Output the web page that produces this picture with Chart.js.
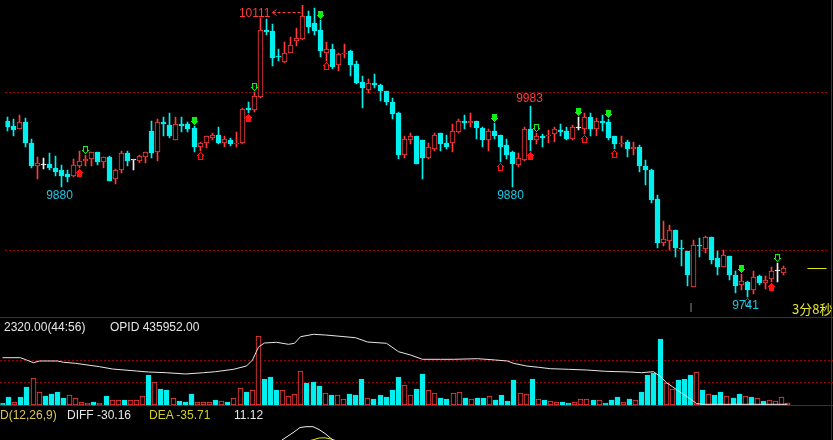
<!DOCTYPE html>
<html lang="zh">
<head>
<meta charset="UTF-8" />
<title>K线 分时</title>
<script src="https://cdn.jsdelivr.net/npm/chart.js@4.4.1/dist/chart.umd.min.js"></script>
<style>
  html, body { margin: 0; padding: 0; background: #000; overflow: hidden; }
  #wrap { position: relative; width: 833px; height: 440px; }
  canvas { position: absolute; left: 0; }
  .txt { position: absolute; font: 12px "Liberation Sans", Arial, sans-serif; line-height: 12px; white-space: pre; }
  .hline { position: absolute; left: 0; width: 833px; height: 1px; background: #b40000; }
  .vline { position: absolute; top: 0; left: 831px; width: 1px; height: 440px; background: #b40000; }
</style>
</head>
<body>
<div id="wrap">
  <canvas id="price" width="833" height="317" style="top:0px"></canvas>
  <canvas id="vol" width="833" height="88" style="top:317px"></canvas>
  <canvas id="macd" width="833" height="34" style="top:406px"></canvas>
  <div class="hline" style="top:317px"></div>
  <div class="hline" style="top:405px"></div>
  <div class="vline"></div>
  <div class="txt" style="left:4px;top:321px;color:#e6e6e6">2320.00(44:56)</div>
  <div class="txt" style="left:110px;top:321px;color:#e6e6e6">OPID 435952.00</div>
  <div class="txt" style="left:0px;top:409px;color:#dcc850">D(12,26,9)</div>
  <div class="txt" style="left:67px;top:409px;color:#e6e6e6">DIFF -30.16</div>
  <div class="txt" style="left:149px;top:409px;color:#d2d21e">DEA -35.71</div>
  <div class="txt" style="left:234px;top:409px;color:#e6e6e6">11.12</div>
  <div class="txt" style="left:792px;top:302px;font:13px 'Noto Sans CJK SC', sans-serif;line-height:13px;color:#e6e632">3分8秒</div>
</div>

<script>
  // K线数据
  const openP = [
    9963, 9957, 9953, 9962, 9935, 9906, 9908, 9909, 9904, 9902,
    9896, 9894, 9907, 9913, 9915, 9924, 9912, 9918, 9890, 9901,
    9923, 9914, 9913, 9918, 9951, 9924, 9962, 9958, 9940, 9960,
    9960, 9955, 9931, 9936, 9942, 9946, 9936, 9940, 9934, 9935,
    9980, 9977, 9994, 10079, 10077, 10045, 10038, 10050, 10065, 10067,
    10096, 10087, 10079, 10050, 10055, 10034, 10048, 10052, 10036, 10013,
    10003, 10011, 10009, 10001, 9988, 9973, 9921, 9939, 9945, 9940,
    9917, 9928, 9948, 9935, 9935, 9950, 9963, 9961, 9963, 9955,
    9939, 9951, 9946, 9933, 9924, 9908, 9914, 9953, 9939, 9945,
    9944, 9947, 9952, 9951, 9941, 9955, 9953, 9969, 9953, 9963,
    9962, 9944, 9934, 9937, 9928, 9931, 9907, 9902, 9865, 9809,
    9812, 9825, 9803, 9799, 9753, 9806, 9801, 9817, 9790, 9779,
    9793, 9769, 9756, 9760, 9750, 9767, 9758, 9763, 9774, 9771
  ];
  const closeP = [
    9956, 9952, 9962, 9936, 9907, 9910, 9908, 9904, 9899, 9894,
    9893, 9908, 9913, 9915, 9924, 9912, 9918, 9887, 9901, 9923,
    9913, 9914, 9919, 9924, 9923, 9962, 9960, 9944, 9960, 9957,
    9953, 9931, 9936, 9944, 9946, 9935, 9941, 9934, 9936, 9979,
    9977, 9995, 10079, 10076, 10043, 10044, 10049, 10060, 10069, 10096,
    10083, 10077, 10052, 10055, 10032, 10048, 10050, 10034, 10011, 10005,
    10011, 10009, 10001, 9987, 9972, 9921, 9941, 9945, 9909, 9917,
    9930, 9946, 9934, 9931, 9951, 9963, 9961, 9963, 9955, 9940,
    9951, 9944, 9930, 9921, 9909, 9917, 9953, 9940, 9944, 9942,
    9946, 9953, 9950, 9941, 9956, 9955, 9969, 9953, 9964, 9961,
    9942, 9934, 9936, 9928, 9931, 9906, 9901, 9863, 9809, 9814,
    9826, 9802, 9801, 9768, 9806, 9805, 9816, 9788, 9779, 9794,
    9768, 9755, 9761, 9750, 9766, 9758, 9762, 9774, 9774, 9777
  ];
  const highP = [
    9969, 9966, 9971, 9967, 9941, 9918, 9917, 9923, 9919, 9908,
    9902, 9915, 9925, 9921, 9924, 9924, 9918, 9919, 9903, 9925,
    9925, 9914, 9921, 9924, 9964, 9966, 9968, 9974, 9968, 9968,
    9962, 9957, 9937, 9944, 9948, 9956, 9944, 9942, 9950, 9980,
    9988, 10000, 10094, 10093, 10086, 10055, 10063, 10070, 10081, 10111,
    10103, 10106, 10092, 10063, 10061, 10049, 10061, 10053, 10039, 10021,
    10017, 10023, 10010, 10001, 9993, 9975, 9944, 9948, 9945, 9940,
    9936, 9948, 9948, 9946, 9960, 9966, 9971, 9973, 9963, 9956,
    9953, 9961, 9946, 9941, 9925, 9923, 9956, 9983, 9948, 9947,
    9952, 9956, 9960, 9956, 9958, 9968, 9973, 9973, 9967, 9971,
    9966, 9945, 9944, 9939, 9937, 9933, 9914, 9903, 9870, 9837,
    9832, 9825, 9813, 9799, 9813, 9815, 9818, 9817, 9799, 9800,
    9793, 9774, 9770, 9761, 9774, 9768, 9767, 9778, 9783, 9780
  ];
  const lowP = [
    9951, 9945, 9953, 9930, 9904, 9890, 9903, 9902, 9894, 9880,
    9886, 9892, 9904, 9907, 9907, 9908, 9904, 9887, 9884, 9897,
    9907, 9901, 9910, 9910, 9917, 9913, 9945, 9942, 9940, 9950,
    9950, 9924, 9926, 9929, 9940, 9934, 9930, 9932, 9930, 9934,
    9973, 9975, 9993, 10072, 10033, 10039, 10037, 10050, 10058, 10066,
    10075, 10072, 10045, 10040, 10029, 10027, 10043, 10021, 10010, 9980,
    9999, 10005, 9989, 9984, 9966, 9915, 9917, 9934, 9909, 9890,
    9915, 9926, 9925, 9928, 9924, 9948, 9953, 9956, 9941, 9931,
    9925, 9941, 9912, 9915, 9880, 9905, 9913, 9926, 9934, 9930,
    9936, 9937, 9945, 9940, 9940, 9952, 9947, 9945, 9945, 9951,
    9940, 9928, 9930, 9918, 9920, 9899, 9882, 9859, 9803, 9805,
    9800, 9791, 9780, 9755, 9753, 9791, 9796, 9782, 9768, 9779,
    9762, 9745, 9749, 9741, 9744, 9756, 9751, 9760, 9760, 9768
  ];
  // 成交量
  const volume = [
    100, 340, 120, 340, 785, 1185, 565, 415, 490, 575,
    310, 430, 300, 120, 90, 120, 75, 385, 210, 210,
    210, 210, 210, 385, 1320, 1010, 700, 665, 300, 165,
    135, 475, 120, 135, 120, 210, 165, 135, 325, 740,
    575, 655, 3065, 1155, 1230, 655, 655, 385, 475, 1495,
    975, 1020, 830, 520, 430, 430, 255, 475, 430, 1140,
    300, 255, 430, 340, 655, 1230, 875, 445, 700, 1375,
    655, 520, 300, 255, 520, 565, 300, 255, 300, 300,
    385, 210, 430, 180, 1095, 520, 475, 1155, 255, 220,
    165, 120, 120, 90, 120, 255, 255, 210, 210, 75,
    210, 340, 120, 255, 210, 575, 1320, 1420, 2930, 965,
    700, 1095, 1155, 1320, 1450, 655, 475, 430, 565, 385,
    300, 475, 385, 340, 300, 165, 210, 165, 340, 75
  ];
  // 持仓量 (OPID)
  const opidIdx = [0, 3, 4, 5, 6, 9, 10, 12, 16, 18, 22, 24, 27, 30, 33, 35, 38, 40, 41, 42,
    43, 45, 47, 48, 49, 51, 53, 58, 60, 63, 65, 67, 69, 72, 74, 78, 81, 83, 84, 86,
    88, 90, 93, 96, 99, 103, 105, 107, 108, 109, 110, 111, 112, 113, 114, 115, 129];
  const opidVal = [436373, 436373, 436350, 436323, 436340, 436340, 436327, 436317, 436283, 436260,
    436240, 436230, 436223, 436210, 436223, 436233, 436257, 436290, 436350, 436480,
    436520, 436527, 436507, 436517, 436583, 436607, 436600, 436573, 436530, 436517,
    436433, 436400, 436357, 436357, 436357, 436363, 436350, 436340, 436317, 436290,
    436277, 436263, 436257, 436250, 436237, 436230, 436223, 436233, 436183, 436123,
    436083, 436040, 436000, 435960, 435915, 435907, 435907];
  // MACD (only the part that shows)
  const diffIdx = [44, 45, 46, 47, 48, 49, 50, 51, 52, 53, 54, 55, 56];
  const diffVal = [35, 40, 45, 49, 53, 57.5, 58.3, 58.3, 55.5, 51.5, 46.5, 42, 38];
  const deaIdx = [48, 49, 50, 51, 52, 53, 54, 55, 56];
  const deaVal = [40, 42, 43.5, 45.2, 47, 47.2, 46, 44, 42];

  // signal arrows
  const greenFill = [31, 52, 81, 95, 100, 122];
  const greenHollow = [13, 41, 88, 128];
  const redFill = [12, 40, 87, 127];
  const redHollow = [32, 53, 82, 96, 101, 123];

  const topMark = 49;
  const peakMarks = [87];
  const troughMarks = [9, 84, 123];
  const priceGuides = [10000, 9800];
  const volGuides = [1000, 2000];
  const sessionBreak = 113.5;

  const RED = '#ff3c3c';
  const CYAN = '#00f0f0';
  const WHITE = '#f0f0f0';
  const GUIDE = '#a00000';
  const X_MIN = -0.345;
  const X_MAX = 136.5;

  const idx = openP.map((_, i) => i);

  function candleColor(i) {
    if (closeP[i] > openP[i]) return RED;
    if (closeP[i] < openP[i]) return CYAN;
    return WHITE;
  }
  function bodyFill(i) {
    if (closeP[i] > openP[i]) return '#000';
    return candleColor(i);
  }
  function xAxis() {
    return { type: 'linear', display: false, min: X_MIN, max: X_MAX, offset: false, alignToPixels: true };
  }

  function makeArrow(color, hollow, down) {
    const c = document.createElement('canvas');
    c.width = 7; c.height = 20;
    const g = c.getContext('2d');
    const spans = [[1, 5], [1, 5], [1, 5], [1, 5], [0, 6], [1, 5], [2, 4], [3, 3]];
    const inner = [null, [2, 4], [2, 4], [2, 4], [2, 4], [2, 4], [3, 3], null];
    const top = down ? 1 : 11;
    for (let r = 0; r < 8; r++) {
      const row = down ? r : 7 - r;
      g.fillStyle = color;
      g.fillRect(spans[r][0], top + row, spans[r][1] - spans[r][0] + 1, 1);
      if (hollow && inner[r]) g.clearRect(inner[r][0], top + row, inner[r][1] - inner[r][0] + 1, 1);
    }
    return c;
  }

  // half pixel shift so 1px wicks are sharp
  const shiftPlugin = {
    id: 'shift',
    beforeDatasetsDraw(chart) { chart.ctx.save(); chart.ctx.translate(0.5, 0); },
    afterDatasetsDraw(chart) { chart.ctx.restore(); }
  };

  const guidePlugin = {
    id: 'guides',
    beforeDatasetsDraw(chart, args, opts) {
      const { ctx, chartArea } = chart;
      const scale = chart.scales[opts.axis || 'y'];
      ctx.save();
      ctx.strokeStyle = GUIDE;
      ctx.lineWidth = 1;
      ctx.setLineDash([2, 2]);
      (opts.values || []).forEach(v => {
        const y = Math.round(scale.getPixelForValue(v)) + 0.5;
        ctx.beginPath();
        ctx.moveTo(chartArea.left, y);
        ctx.lineTo(chartArea.right, y);
        ctx.stroke();
      });
      ctx.restore();
    }
  };

  const markPlugin = {
    id: 'marks',
    afterDatasetsDraw(chart) {
      const { ctx, chartArea, scales: { x, y } } = chart;
      ctx.save();
      ctx.font = '12px "Liberation Sans", Arial, sans-serif';

      // highest point with dashed arrow
      const tx = x.getPixelForValue(topMark);
      const ty = Math.max(y.getPixelForValue(highP[topMark]), 0);
      ctx.fillStyle = RED;
      ctx.strokeStyle = RED;
      ctx.textAlign = 'right';
      ctx.textBaseline = 'middle';
      ctx.fillText(String(highP[topMark]), tx - 32, ty + 9);
      ctx.lineWidth = 1;
      ctx.setLineDash([3, 2]);
      ctx.beginPath();
      ctx.moveTo(tx - 30, ty + 7.5);
      ctx.lineTo(tx - 2, ty + 7.5);
      ctx.stroke();
      ctx.setLineDash([]);
      ctx.beginPath();
      ctx.moveTo(tx - 26, ty + 4.5);
      ctx.lineTo(tx - 30, ty + 7.5);
      ctx.lineTo(tx - 26, ty + 10.5);
      ctx.stroke();

      ctx.textAlign = 'center';
      ctx.textBaseline = 'bottom';
      peakMarks.forEach(i => {
        ctx.fillText(String(highP[i]), x.getPixelForValue(i) - 1, y.getPixelForValue(highP[i]) - 1);
      });
      ctx.fillStyle = '#1ec8e6';
      ctx.textBaseline = 'top';
      troughMarks.forEach(i => {
        ctx.fillText(String(lowP[i]), x.getPixelForValue(i) - 2, y.getPixelForValue(lowP[i]) + 3);
      });

      // last price marker on the right
      const last = closeP.length - 1;
      ctx.fillStyle = '#e6e600';
      ctx.fillRect(chartArea.right - 21, Math.round(y.getPixelForValue(closeP[last])), 19, 1);

      // session break tick
      ctx.fillStyle = '#8c8c8c';
      ctx.fillRect(Math.round(x.getPixelForValue(sessionBreak)), chartArea.bottom - 9, 1, 9);
      ctx.restore();
    }
  };

  const baseOptions = {
    responsive: false,
    animation: false,
    events: [],
    layout: { padding: 0 },
    plugins: { legend: { display: false }, tooltip: { enabled: false } }
  };

  function arrowSet(list, img, below) {
    return {
      type: 'scatter',
      data: list.map(i => ({ x: i, y: below ? lowP[i] : highP[i] })),
      pointStyle: img,
      pointRadius: 4,
      order: 0
    };
  }

  new Chart(document.getElementById('price'), {
    type: 'bar',
    data: {
      datasets: [
        {
          label: 'wick',
          data: idx.map(i => ({ x: i, y: [lowP[i], highP[i]] })),
          barThickness: 1,
          backgroundColor: c => candleColor(c.dataIndex),
          borderWidth: 0,
          grouped: false,
          order: 3
        },
        {
          label: 'body',
          data: idx.map(i => ({ x: i, y: [openP[i], closeP[i]] })),
          barThickness: 5,
          minBarLength: 1,
          backgroundColor: c => bodyFill(c.dataIndex),
          borderColor: c => candleColor(c.dataIndex),
          borderWidth: 1,
          borderSkipped: false,
          grouped: false,
          order: 2
        },
        arrowSet(greenFill, makeArrow('#10f010', false, true), false),
        arrowSet(greenHollow, makeArrow('#10f010', true, true), false),
        arrowSet(redFill, makeArrow('#ff1414', false, false), true),
        arrowSet(redHollow, makeArrow('#ff1414', true, false), true)
      ]
    },
    options: {
      ...baseOptions,
      plugins: { ...baseOptions.plugins, guides: { values: priceGuides } },
      scales: {
        x: xAxis(),
        y: { display: false, min: 9721.5, max: 10110.4, alignToPixels: true }
      }
    },
    plugins: [guidePlugin, markPlugin, shiftPlugin]
  });

  new Chart(document.getElementById('vol'), {
    type: 'bar',
    data: {
      datasets: [
        {
          label: 'VOL',
          data: idx.map(i => ({ x: i, y: volume[i] })),
          barThickness: 5,
          backgroundColor: c => (closeP[c.dataIndex] >= openP[c.dataIndex] ? '#000' : CYAN),
          borderColor: c => (closeP[c.dataIndex] >= openP[c.dataIndex] ? RED : CYAN),
          borderWidth: 1,
          borderSkipped: false,
          grouped: false,
          order: 2
        },
        {
          type: 'line',
          label: 'OPID',
          yAxisID: 'y2',
          data: opidIdx.map((v, k) => ({ x: v, y: opidVal[k] })),
          borderColor: '#e6e6e6',
          borderWidth: 1,
          pointRadius: 0,
          order: 1
        }
      ]
    },
    options: {
      ...baseOptions,
      plugins: { ...baseOptions.plugins, guides: { values: volGuides } },
      scales: {
        x: xAxis(),
        y: { display: false, min: 0, max: 3911, alignToPixels: true },
        y2: { display: false, min: 435900, max: 436780 }
      }
    },
    plugins: [guidePlugin, shiftPlugin]
  });

  new Chart(document.getElementById('macd'), {
    type: 'line',
    data: {
      datasets: [
        {
          label: 'DIFF',
          data: diffIdx.map((v, k) => ({ x: v, y: diffVal[k] })),
          borderColor: '#f0f0f0',
          borderWidth: 1,
          pointRadius: 0
        },
        {
          label: 'DEA',
          data: deaIdx.map((v, k) => ({ x: v, y: deaVal[k] })),
          borderColor: '#e6e600',
          borderWidth: 1,
          pointRadius: 0
        }
      ]
    },
    options: {
      ...baseOptions,
      scales: {
        x: xAxis(),
        y: { display: false, min: 45, max: 79 }
      }
    }
  });
</script>
</body>
</html>
